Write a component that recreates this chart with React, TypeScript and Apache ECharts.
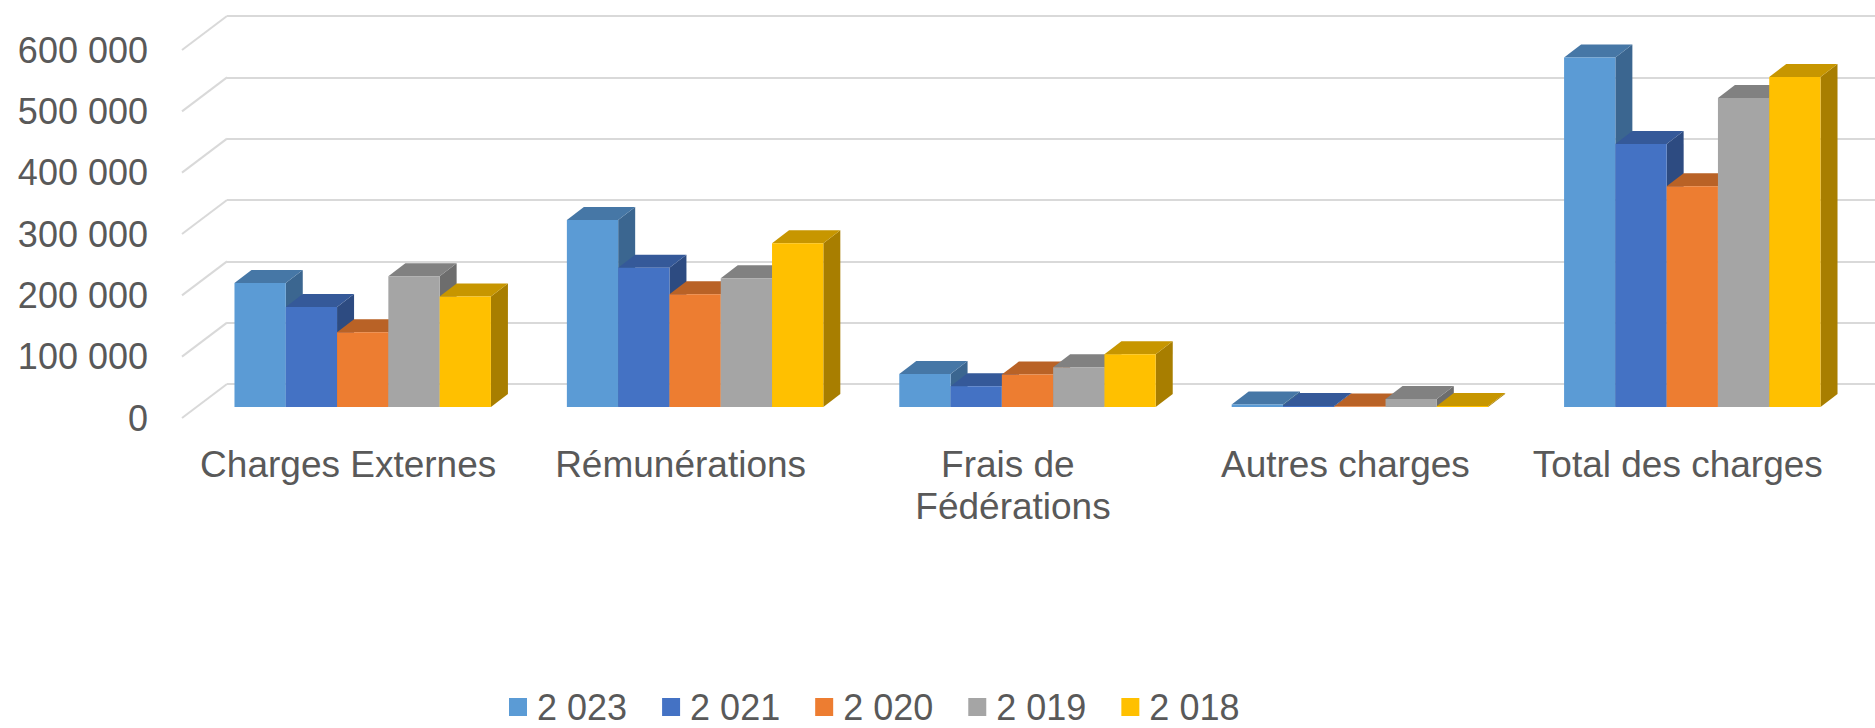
import React, { useEffect, useRef } from "react";
import * as echarts from "echarts";

const categories = [
  "Charges Externes",
  "Rémunérations",
  "Frais de Fédérations",
  "Autres charges",
  "Total des charges",
];
const seriesNames = ["2 023", "2 021", "2 020", "2 019", "2 018"];
const values2023 = [202000, 305000, 54000, 4000, 570000];
const values2021 = [163000, 227000, 34000, 1500, 429000];
const values2020 = [122000, 184000, 53000, 1000, 360000];
const values2019 = [213000, 210000, 65000, 13000, 504000];
const values2018 = [180000, 267000, 86000, 1500, 538000];
const yTicks = [0, 100000, 200000, 300000, 400000, 500000, 600000];

const frontColors = ["#5B9BD5", "#4472C4", "#ED7D31", "#A5A5A5", "#FFC000"];
const topColors = ["#4677A6", "#355999", "#B96226", "#818181", "#C79600"];
const sideColors = ["#3B6690", "#2D4B81", "#9C5320", "#6D6D6D", "#A87E00"];

const FONT = "'Liberation Sans', Arial, sans-serif";
const TEXT = "#595959";
const GRID_COLOR = "#d9d9d9";

// 3D geometry (px)
const WALL_DX = 45;
const WALL_DY = 34;
const FRONT_DX = 14.5;
const FRONT_DY = 11;
const DEPTH_DX = 17;
const DEPTH_DY = 13;
const BAR_FRAC = 0.1543;

const fmt = (v: number) => String(v).replace(/\B(?=(\d{3})+(?!\d))/g, " ");

export default function App() {
  const ref = useRef<HTMLDivElement>(null);
  useEffect(() => {
    if (!ref.current) return;
    const chart = echarts.init(ref.current, undefined, { renderer: "svg" });
    const allValues = [values2023, values2021, values2020, values2019, values2018];

    const barSeries = allValues.map((vals, i) => ({
      type: "custom",
      name: seriesNames[i],
      xAxisIndex: 0,
      yAxisIndex: 0,
      itemStyle: { color: frontColors[i] },
      encode: { x: 0, y: 1 },
      data: vals.map((v, j) => [j, v]),
      z: 5,
      renderItem: (params: any, api: any) => {
        const j = api.value(0);
        const v = api.value(1);
        const top = api.coord([j, v]);
        const base = api.coord([j, 0]);
        const band = api.size([1, 0])[0];
        const bw = band * BAR_FRAC;
        const L = top[0] - 2.5 * bw + i * bw + FRONT_DX;
        const R = L + bw;
        const T = top[1] - FRONT_DY;
        const B = base[1] - FRONT_DY;
        return {
          type: "group",
          children: [
            {
              type: "polygon",
              shape: {
                points: [
                  [R, T],
                  [R + DEPTH_DX, T - DEPTH_DY],
                  [R + DEPTH_DX, B - DEPTH_DY],
                  [R, B],
                ],
              },
              style: { fill: sideColors[i] },
            },
            {
              type: "polygon",
              shape: {
                points: [
                  [L, T],
                  [R, T],
                  [R + DEPTH_DX, T - DEPTH_DY],
                  [L + DEPTH_DX, T - DEPTH_DY],
                ],
              },
              style: { fill: topColors[i] },
            },
            {
              type: "rect",
              shape: { x: L, y: T, width: R - L, height: Math.max(B - T, 0) },
              style: { fill: frontColors[i] },
            },
          ],
        };
      },
    }));

    const diagSeries = {
      type: "custom",
      name: "diag",
      xAxisIndex: 0,
      yAxisIndex: 0,
      silent: true,
      z: 1,
      encode: { x: 0, y: 1 },
      data: yTicks.map((v) => [0, v]),
      renderItem: (params: any, api: any) => {
        const p = api.coord([0, api.value(1)]);
        const band = api.size([1, 0])[0];
        const x0 = p[0] - band / 2;
        return {
          type: "line",
          shape: { x1: x0, y1: p[1], x2: x0 + WALL_DX, y2: p[1] - WALL_DY },
          style: { stroke: GRID_COLOR, lineWidth: 2 },
        };
      },
    };

    const gridLeft = 182;
    const gridTop = 50;
    const gridH = 368;
    const gridW = 1662;

    chart.setOption({
      animation: false,
      backgroundColor: "#ffffff",
      textStyle: { fontFamily: FONT },
      grid: [
        { left: gridLeft, top: gridTop, width: gridW, height: gridH },
        { left: gridLeft + WALL_DX, top: gridTop - WALL_DY, right: 0, height: gridH },
      ],
      xAxis: [
        {
          type: "category",
          gridIndex: 0,
          data: categories,
          axisLine: { show: false },
          axisTick: { show: false },
          axisLabel: {
            interval: 0,
            color: TEXT,
            fontSize: 37,
            fontFamily: FONT,
            margin: 25,
            width: 310,
            overflow: "break",
            lineHeight: 42,
          },
        },
        { type: "value", gridIndex: 1, show: false, min: 0, max: 1 },
      ],
      yAxis: [
        {
          type: "value",
          gridIndex: 0,
          min: 0,
          max: 600000,
          interval: 100000,
          axisLine: { show: false },
          axisTick: { show: false },
          splitLine: { show: false },
          axisLabel: {
            color: TEXT,
            fontSize: 36,
            fontFamily: FONT,
            margin: 34,
            formatter: (v: number) => fmt(v),
          },
        },
        {
          type: "value",
          gridIndex: 1,
          min: 0,
          max: 600000,
          interval: 100000,
          axisLine: { show: false },
          axisTick: { show: false },
          axisLabel: { show: false },
          splitLine: { show: true, lineStyle: { color: GRID_COLOR, width: 2 } },
        },
      ],
      legend: {
        data: seriesNames,
        left: 509,
        top: 689,
        padding: 0,
        icon: "rect",
        itemWidth: 18,
        itemHeight: 18,
        itemGap: 35,
        textStyle: {
          color: TEXT,
          fontSize: 36,
          fontFamily: FONT,
          padding: [0, 0, 0, 5],
        },
      },
      series: [diagSeries, ...barSeries],
    });
    return () => chart.dispose();
  }, []);

  return (
    <div
      ref={ref}
      style={{ position: "fixed", left: 0, top: 0, width: 1875, height: 728, background: "#fff" }}
    />
  );
}
